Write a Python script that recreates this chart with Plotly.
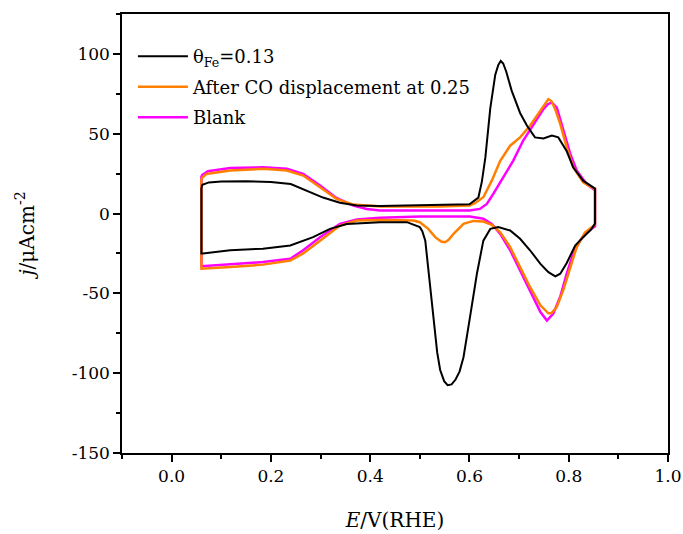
import plotly.graph_objects as go

# ---- data ----
E_black = [0.060, 0.062, 0.075, 0.10, 0.15, 0.20, 0.24, 0.272, 0.305, 0.339, 0.373, 0.42, 0.50, 0.55, 0.60,
           0.618, 0.625, 0.632, 0.642, 0.652, 0.658, 0.663, 0.668, 0.674, 0.685, 0.702, 0.716, 0.732, 0.749,
           0.766, 0.779, 0.796, 0.809, 0.829, 0.851, 0.853,
           0.853, 0.845, 0.829, 0.813, 0.796, 0.783, 0.773, 0.759, 0.743, 0.722, 0.702, 0.682, 0.658, 0.642,
           0.628, 0.615, 0.601, 0.588, 0.580, 0.572, 0.564, 0.556, 0.549, 0.541, 0.535, 0.528, 0.524, 0.517,
           0.511, 0.505, 0.500, 0.474, 0.42, 0.353, 0.319, 0.285, 0.239, 0.184, 0.118, 0.063, 0.060, 0.060]
j_black = [16.0, 18.0, 19.5, 20.0, 20.3, 19.8, 18.5, 14.4, 10.0, 6.8, 5.0, 4.8, 5.2, 5.4, 5.8,
           10.0, 20.0, 35.0, 66.0, 87.0, 93.0, 95.6, 94.0, 89.0, 77.0, 63.0, 55.0, 47.7, 47.0,
           48.8, 47.7, 39.0, 29.0, 20.6, 15.6, 15.6,
           -6.3, -10.0, -14.8, -20.0, -31.0, -37.7, -39.4, -36.7, -31.5, -23.0, -15.8, -10.6, -8.5, -9.6,
           -17.0, -37.7, -65.0, -90.0, -99.0, -104.0, -107.0, -107.5, -105.0, -98.0, -87.0, -67.0, -54.0, -33.5,
           -17.0, -11.0, -8.5, -5.4, -5.4, -6.5, -9.6, -14.8, -20.0, -22.0, -23.0, -25.0, -25.0, 16.0]

E_orange = [0.060, 0.070, 0.118, 0.184, 0.232, 0.265, 0.299, 0.332, 0.366, 0.42, 0.54, 0.60, 0.611, 0.628,
            0.645, 0.662, 0.682, 0.702, 0.722, 0.743, 0.752, 0.759, 0.765, 0.772, 0.783, 0.796, 0.809, 0.829,
            0.851, 0.853,
            0.853, 0.833, 0.816, 0.803, 0.789, 0.776, 0.765, 0.759, 0.743, 0.722, 0.702, 0.682, 0.662, 0.645,
            0.628, 0.608, 0.588, 0.568, 0.558, 0.551, 0.543, 0.531, 0.517, 0.500, 0.487, 0.42, 0.373, 0.339,
            0.299, 0.265, 0.239, 0.184, 0.118, 0.063, 0.060, 0.060]
j_orange = [22.0, 24.8, 26.9, 28.0, 27.0, 23.8, 16.5, 9.2, 5.6, 4.4, 4.4, 5.0, 6.5, 10.2,
            20.6, 33.0, 42.5, 47.7, 55.0, 64.4, 68.5, 71.7, 70.5, 66.0, 56.0, 41.5, 29.0, 19.6,
            15.6, 15.6,
            -7.0, -11.7, -21.0, -33.5, -48.0, -58.5, -62.5, -62.5, -57.5, -46.0, -33.5, -21.0, -11.7, -7.0,
            -5.0, -4.6, -6.5, -12.7, -16.5, -18.0, -17.5, -14.8, -9.6, -5.4, -4.4, -4.0, -4.4, -7.5,
            -17.0, -25.0, -29.4, -32.0, -33.5, -34.6, -34.6, 22.0]

E_blank = [0.060, 0.073, 0.118, 0.184, 0.232, 0.265, 0.299, 0.332, 0.366, 0.393, 0.42, 0.60, 0.621, 0.635,
           0.648, 0.668, 0.688, 0.708, 0.729, 0.749, 0.758, 0.766, 0.776, 0.789, 0.803, 0.816, 0.836, 0.851,
           0.853,
           0.853, 0.836, 0.823, 0.809, 0.796, 0.783, 0.769, 0.756, 0.743, 0.722, 0.702, 0.682, 0.662, 0.645,
           0.628, 0.601, 0.50, 0.42, 0.373, 0.339, 0.299, 0.265, 0.239, 0.184, 0.118, 0.063, 0.060, 0.060]
j_blank = [23.8, 26.5, 28.5, 29.0, 28.0, 24.8, 17.5, 9.8, 5.0, 2.9, 1.9, 1.9, 2.9, 6.0,
           12.3, 22.7, 33.0, 45.6, 56.0, 65.4, 68.5, 69.6, 66.4, 52.0, 37.5, 27.0, 18.5, 15.0,
           15.0,
           -8.0, -11.7, -17.0, -25.0, -37.7, -52.0, -62.7, -67.0, -61.7, -48.0, -35.6, -23.0, -12.7, -6.5,
           -3.3, -1.9, -1.9, -2.7, -3.8, -6.5, -14.8, -23.0, -28.3, -30.4, -32.0, -33.0, -33.0, 23.8]

x_ticks = [0.0, 0.2, 0.4, 0.6, 0.8, 1.0]
x_ticktext = ["0.0", "0.2", "0.4", "0.6", "0.8", "1.0"]
y_ticks = [-150, -100, -50, 0, 50, 100]
y_ticktext = ["-150", "-100", "-50", "0", "50", "100"]

FONT = "DejaVu Serif"

fig = go.Figure()
fig.add_trace(go.Scatter(x=E_blank, y=j_blank, mode="lines", name="Blank", legendrank=3, legendgroup="c",
                         line=dict(color="#FF00FF", width=2.5)))
fig.add_trace(go.Scatter(x=E_orange, y=j_orange, mode="lines", name="After CO displacement at 0.25",
                         legendrank=2, legendgroup="b", line=dict(color="#FF8000", width=2.5)))
fig.add_trace(go.Scatter(x=E_black, y=j_black, mode="lines", name="θ<sub>Fe</sub>=0.13", legendrank=1,
                         legendgroup="a", line=dict(color="#000000", width=2)))

axis_common = dict(showline=True, linecolor="black", linewidth=1.5, mirror=True,
                   ticks="outside", ticklen=7, tickwidth=1.5, tickcolor="black",
                   showgrid=False, zeroline=False, automargin=False,
                   tickfont=dict(family=FONT, size=17, color="black"))

fig.update_xaxes(range=[-0.1, 1.0], tickvals=x_ticks, ticktext=x_ticktext,
                 minor=dict(ticks="outside", ticklen=4, tickwidth=1.5, tickcolor="black", dtick=0.1, tick0=0),
                 title=dict(text="<i>E</i>/V(RHE)", font=dict(family=FONT, size=20, color="black"), standoff=28),
                 **axis_common)
fig.update_yaxes(range=[-150, 125], tickvals=y_ticks, ticktext=y_ticktext,
                 minor=dict(ticks="outside", ticklen=4, tickwidth=1.5, tickcolor="black", dtick=25, tick0=0),
                 title=dict(text="<i>j</i>/μAcm<sup>-2</sup>", font=dict(family=FONT, size=20, color="black"), standoff=32),
                 **axis_common)

fig.update_layout(
    width=683, height=534,
    margin=dict(l=122, r=15, t=14, b=81),
    plot_bgcolor="white", paper_bgcolor="white",
    showlegend=True,
    legend=dict(x=0.02, y=0.945, xanchor="left", yanchor="top", traceorder="grouped",
                tracegroupgap=4, itemwidth=50,
                bgcolor="rgba(0,0,0,0)", borderwidth=0,
                font=dict(family=FONT, size=18, color="black")),
)

fig.write_html("out.html", config={"displayModeBar": False},
               post_script="document.body.style.margin='0';document.body.style.overflow='hidden';")
